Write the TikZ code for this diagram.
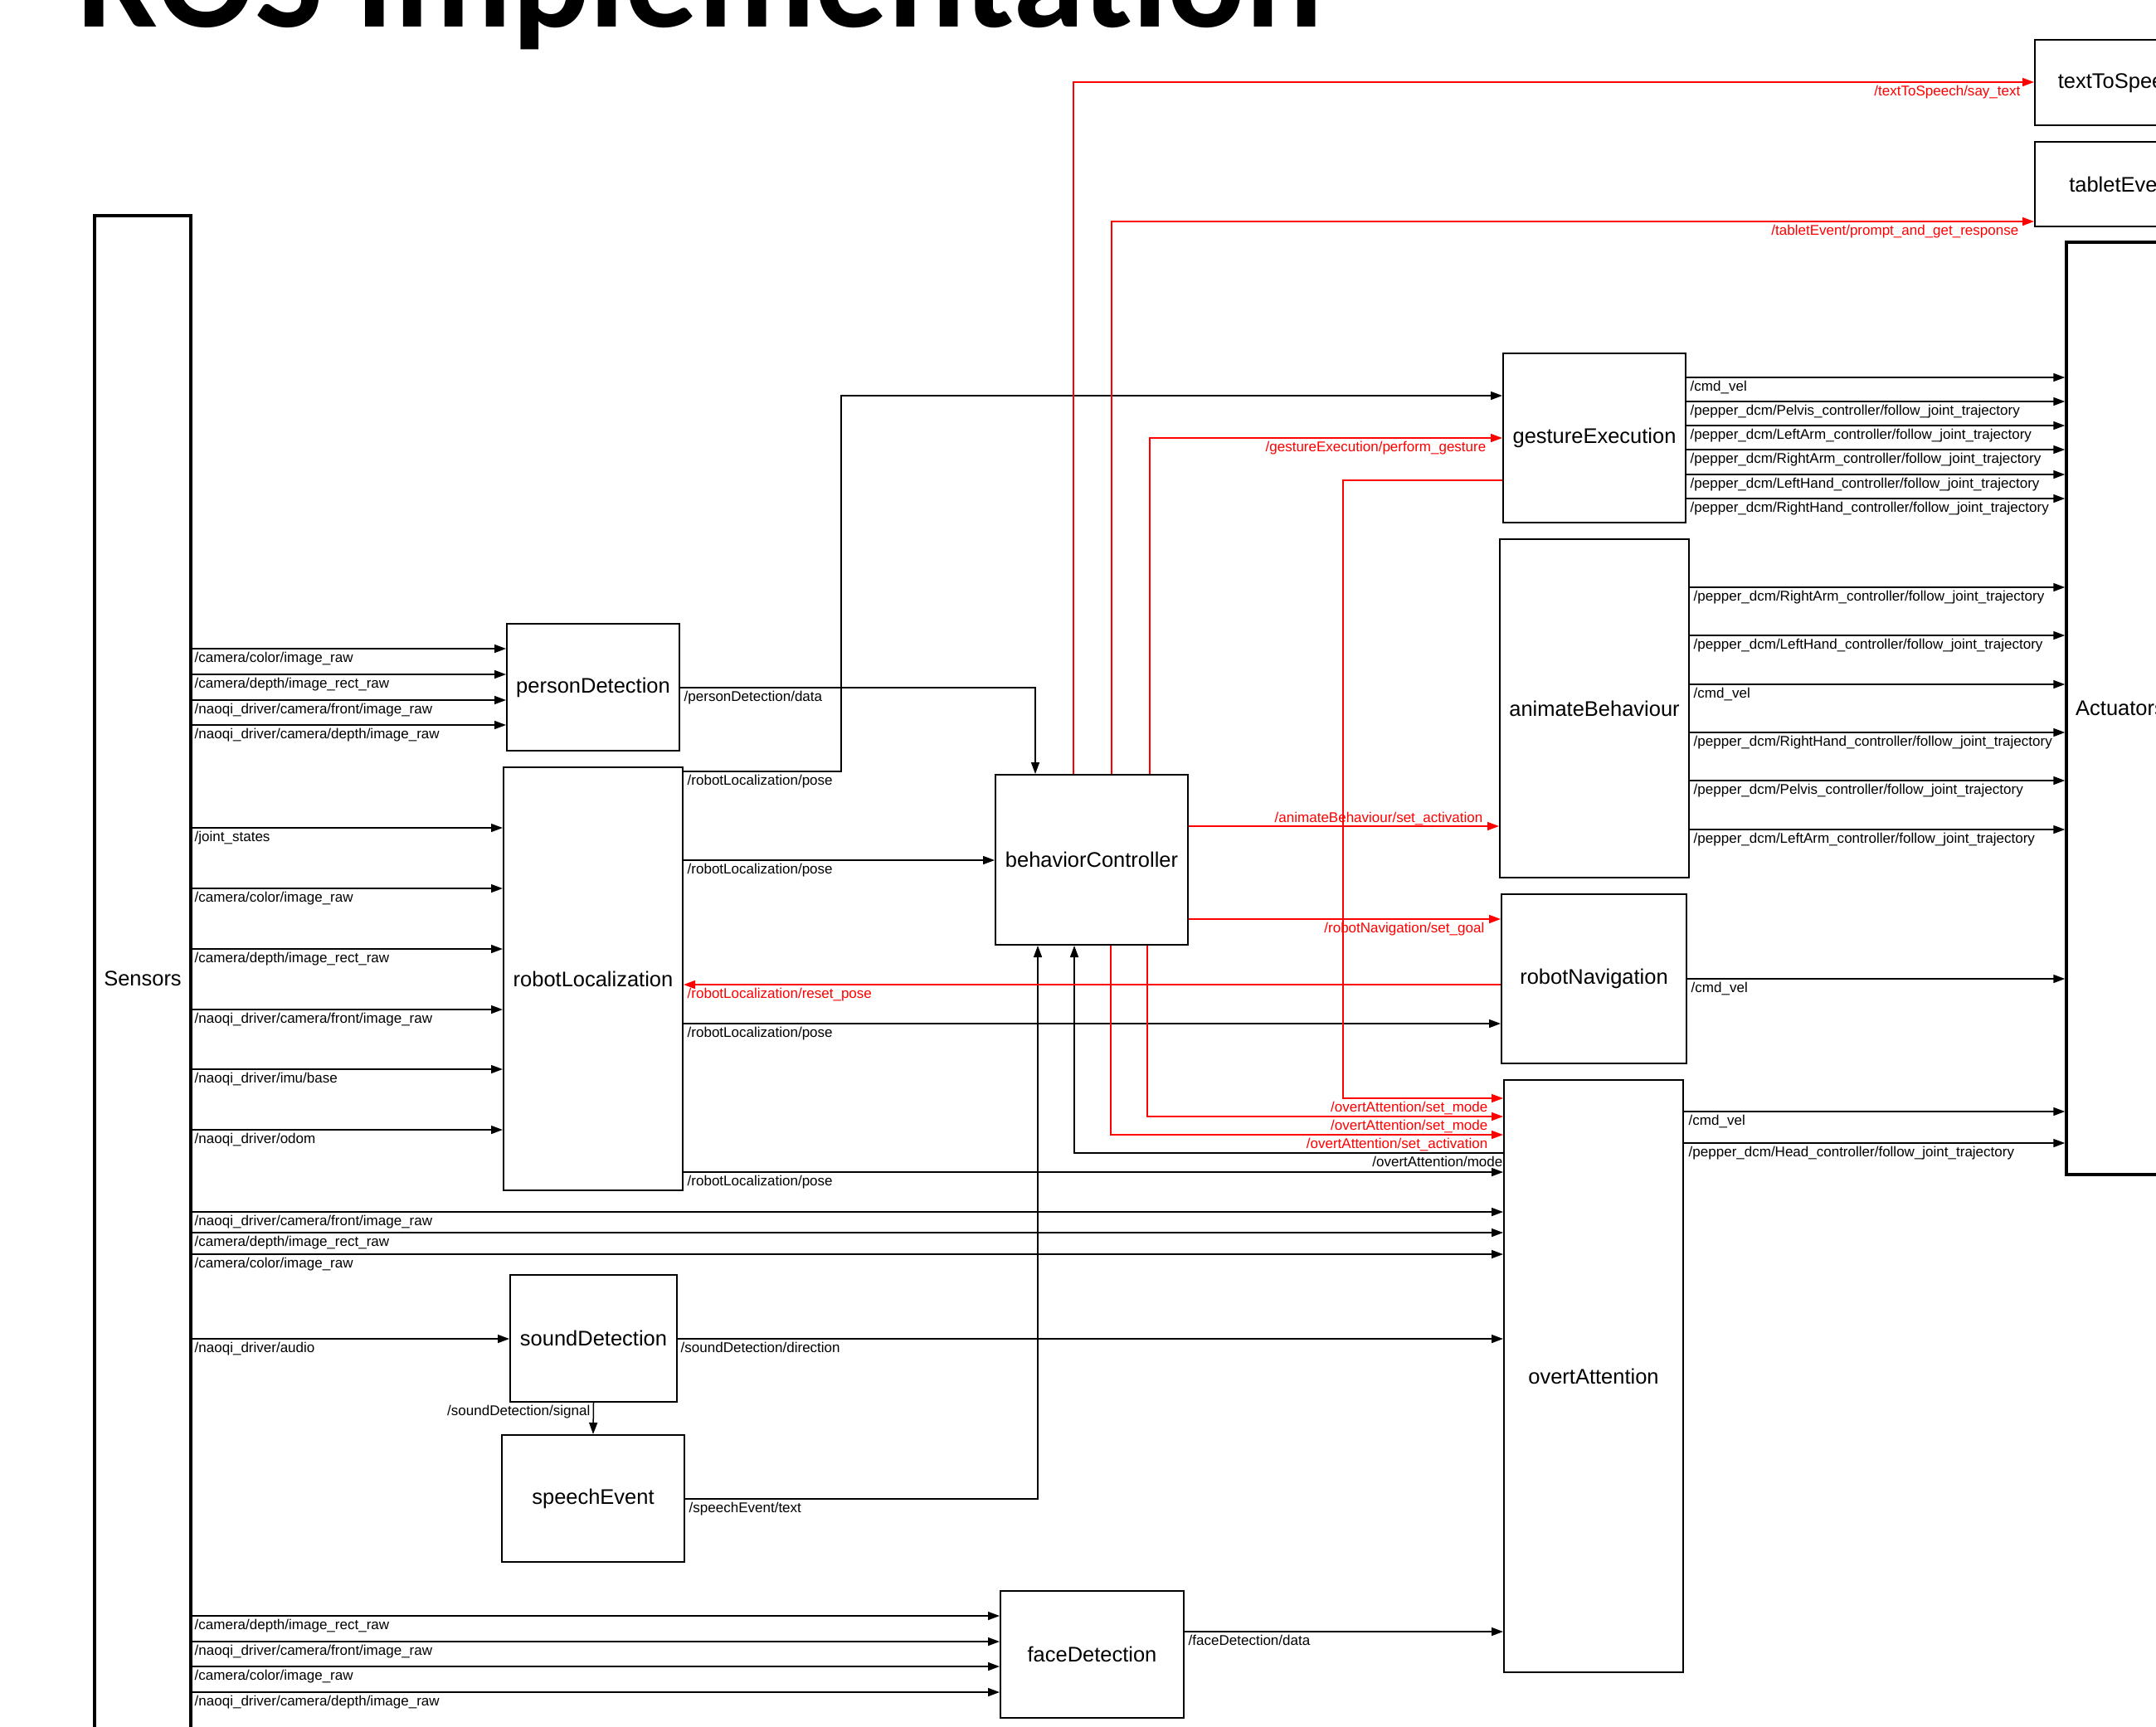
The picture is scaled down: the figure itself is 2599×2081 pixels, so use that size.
\documentclass[tikz,border=0pt]{standalone}
\usepackage{fontspec}
\setmainfont{Liberation Sans}
\newfontfamily\titlefont{Carlito}
\usetikzlibrary{arrows.meta}
\newcommand\lblfont{\fontsize{4.84pt}{5.8pt}\selectfont}
\newcommand\boxfont{\fontsize{7.25pt}{8.7pt}\selectfont}
\newcounter{lbc}
\newcommand\lab[3][]{\stepcounter{lbc}\node[lbl,#1] (lab\thelbc) at (#2) {#3};}
\newcommand\mkbox[7][]{\node[box,#1,minimum width={(#5-#3)*0.1mm},minimum height={(#6-#4)*0.1mm}] (#2) at ({(#3+#5)/2},{(#4+#6)/2}) {\raisebox{-0.2mm}{#7}};}
\newcommand\sline[3]{\draw[arr] (sens.east |- 0,#2) -- (#1.west |- 0,#2); \lab{234,{#2+16}}{#3}}
\newcommand\oline[5]{\draw[arr] (#1.east |- 0,#3) -- (#2.west |- 0,#3); \lab{#4,{#3+16}}{#5}}
\tikzset{
 box/.style={draw, line width=0.2mm, inner sep=0pt, font=\boxfont, align=center},
 bigbox/.style={line width=0.35mm},
 arr/.style={line width=0.15mm, -{Triangle[length=1.4mm,width=1.0mm]}},
 rarr/.style={arr, red},
 lbl/.style={font=\lblfont, inner sep=0pt, anchor=base west},
 rlbl/.style={anchor=base east, text=red},
}
\begin{document}
\begin{tikzpicture}[x=0.1mm,y=-0.1mm]
\useasboundingbox (0,0) rectangle (2599,2081);
\clip (0,0) rectangle (2599,2081);
\node[anchor=base west, inner sep=0pt, font=\titlefont\bfseries\fontsize{49.6pt}{58pt}\selectfont] (title) at (92,32) {ROS Implementation};
% boxes
\mkbox[bigbox]{sens}{114}{260}{230}{2100}{Sensors}
\mkbox[bigbox]{act}{2491}{292}{2621}{1416}{Actuators}
\mkbox{tts}{2453}{48}{2663}{151}{textToSpeech}
\mkbox{te}{2453}{171}{2663}{273}{tabletEvent}
\mkbox{ge}{1812}{426}{2032}{630}{gestureExecution}
\mkbox{ab}{1808}{650}{2036}{1058}{animateBehaviour}
\mkbox{ro}{1810}{1078}{2033}{1282}{robotNavigation}
\mkbox{oa}{1813}{1302}{2029}{2016}{overtAttention}
\mkbox{bc}{1200}{934}{1432}{1139}{behaviorController}
\mkbox{pd}{611}{752}{819}{905}{personDetection}
\mkbox{rl}{607}{925}{823}{1435}{robotLocalization}
\mkbox{sd}{615}{1537}{816}{1690}{soundDetection}
\mkbox{se}{605}{1730}{825}{1883}{speechEvent}
\mkbox{fd}{1206}{1918}{1427}{2071}{faceDetection}
% sensor inputs
\sline{pd}{782}{/camera/color/image\_raw}
\sline{pd}{813}{/camera/depth/image\_rect\_raw}
\sline{pd}{844}{/naoqi\_driver/camera/front/image\_raw}
\sline{pd}{874}{/naoqi\_driver/camera/depth/image\_raw}
\sline{rl}{998}{/joint\_states}
\sline{rl}{1071}{/camera/color/image\_raw}
\sline{rl}{1144}{/camera/depth/image\_rect\_raw}
\sline{rl}{1217}{/naoqi\_driver/camera/front/image\_raw}
\sline{rl}{1289}{/naoqi\_driver/imu/base}
\sline{rl}{1362}{/naoqi\_driver/odom}
\sline{oa}{1461}{/naoqi\_driver/camera/front/image\_raw}
\sline{oa}{1486}{/camera/depth/image\_rect\_raw}
\sline{oa}{1512}{/camera/color/image\_raw}
\sline{sd}{1614}{/naoqi\_driver/audio}
\sline{fd}{1948}{/camera/depth/image\_rect\_raw}
\sline{fd}{1979}{/naoqi\_driver/camera/front/image\_raw}
\sline{fd}{2009}{/camera/color/image\_raw}
\sline{fd}{2040}{/naoqi\_driver/camera/depth/image\_raw}
% actuator outputs
\oline{ge}{act}{455}{2037}{/cmd\_vel}
\oline{ge}{act}{484}{2037}{/pepper\_dcm/Pelvis\_controller/follow\_joint\_trajectory}
\oline{ge}{act}{513}{2037}{/pepper\_dcm/LeftArm\_controller/follow\_joint\_trajectory}
\oline{ge}{act}{542}{2037}{/pepper\_dcm/RightArm\_controller/follow\_joint\_trajectory}
\oline{ge}{act}{572}{2037}{/pepper\_dcm/LeftHand\_controller/follow\_joint\_trajectory}
\oline{ge}{act}{601}{2037}{/pepper\_dcm/RightHand\_controller/follow\_joint\_trajectory}
\oline{ab}{act}{708}{2041}{/pepper\_dcm/RightArm\_controller/follow\_joint\_trajectory}
\oline{ab}{act}{766}{2041}{/pepper\_dcm/LeftHand\_controller/follow\_joint\_trajectory}
\oline{ab}{act}{825}{2041}{/cmd\_vel}
\oline{ab}{act}{883}{2041}{/pepper\_dcm/RightHand\_controller/follow\_joint\_trajectory}
\oline{ab}{act}{941}{2041}{/pepper\_dcm/Pelvis\_controller/follow\_joint\_trajectory}
\oline{ab}{act}{1000}{2041}{/pepper\_dcm/LeftArm\_controller/follow\_joint\_trajectory}
\oline{ro}{act}{1180}{2038}{/cmd\_vel}
\oline{oa}{act}{1340}{2035}{/cmd\_vel}
\oline{oa}{act}{1378}{2035}{/pepper\_dcm/Head\_controller/follow\_joint\_trajectory}
% internal black
\oline{rl}{bc}{1037}{828}{/robotLocalization/pose}
\oline{rl}{ro}{1234}{828}{/robotLocalization/pose}
\oline{rl}{oa}{1413}{828}{/robotLocalization/pose}
\oline{sd}{oa}{1614}{820}{/soundDetection/direction}
\oline{fd}{oa}{1967}{1432}{/faceDetection/data}
\draw[arr] (pd.east |- 0,829) -| (bc.north -| 1248,0); \lab{824,845}{/personDetection/data}
\draw[arr] (rl.east |- 0,930) -- (1014,930) |- (ge.west |- 0,477); \lab{828,946}{/robotLocalization/pose}
\draw[arr] (se.east |- 0,1807) -| (bc.south -| 1251,0); \lab{830,1823}{/speechEvent/text}
\draw[arr] (oa.west |- 0,1390) -| (bc.south -| 1295,0); \lab[anchor=base east]{1812,1406}{/overtAttention/mode}
\draw[arr] (sd.south) -- (se.north); \lab[anchor=base east]{712,1706}{/soundDetection/signal}
% red
\draw[rarr] (bc.north -| 1294,0) |- (tts.west |- 0,99); \lab[rlbl]{2436,115}{/textToSpeech/say\_text}
\draw[rarr] (bc.north -| 1340,0) |- (te.west |- 0,267); \lab[rlbl]{2434,283}{/tabletEvent/prompt\_and\_get\_response}
\draw[rarr] (bc.north -| 1386,0) |- (ge.west |- 0,528); \lab[rlbl]{1792,544}{/gestureExecution/perform\_gesture}
\draw[rarr] (bc.east |- 0,996) -- (ab.west |- 0,996); \lab[rlbl]{1788,991}{/animateBehaviour/set\_activation}
\draw[rarr] (bc.east |- 0,1108) -- (ro.west |- 0,1108); \lab[rlbl]{1790,1124}{/robotNavigation/set\_goal}
\draw[rarr] (ro.west |- 0,1187) -- (rl.east |- 0,1187); \lab[text=red]{828,1203}{/robotLocalization/reset\_pose}
\draw[rarr] (ge.west |- 0,579) -| (1619,1324) -- (oa.west |- 0,1324); \lab[rlbl]{1794,1340}{/overtAttention/set\_mode}
\draw[rarr] (bc.south -| 1383,0) |- (oa.west |- 0,1346); \lab[rlbl]{1794,1362}{/overtAttention/set\_mode}
\draw[rarr] (bc.south -| 1339,0) |- (oa.west |- 0,1368); \lab[rlbl]{1794,1384}{/overtAttention/set\_activation}
\end{tikzpicture}
\end{document}
